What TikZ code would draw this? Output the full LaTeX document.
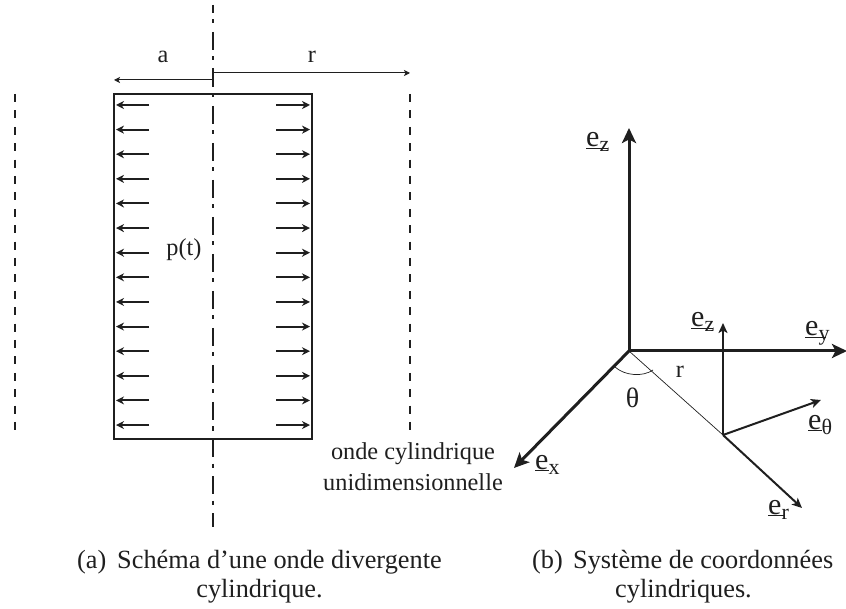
\documentclass[tikz,border=0pt]{standalone}
\usepackage{fontspec}
\setmainfont{Liberation Serif}
\usetikzlibrary{arrows.meta}
% #1 = how far the underline runs under the subscript, #2 = subscript
\newcommand{\vecev}[2]{\underline{e\kern#1}\kern-#1\raisebox{-5pt}{\fontsize{22}{22}\selectfont #2}}
\definecolor{ink}{gray}{0.12}
\tikzset{
  lab/.style={inner sep=0pt,text=ink,font=\fontsize{24.3}{28}\selectfont},
  captext/.style={inner sep=0pt,text=ink,font=\fontsize{26.3}{30}\selectfont},
  vec/.style={inner sep=0pt,text=ink,font=\fontsize{30}{32}\selectfont,anchor=base west},
  wall/.style={draw=ink,line width=1.9pt},
  axisline/.style={draw=ink,line width=1.9pt,dash pattern=on 18pt off 6.5pt on 4pt off 8.5pt,dash phase=10pt},
  wavefront/.style={draw=ink,line width=1.9pt,dash pattern=on 8pt off 8.4pt},
  press/.style={draw=ink,line width=2pt,-{Stealth[length=8pt,width=8pt,inset=2.5pt]}},
  dim/.style={draw=ink,line width=1pt,-{Stealth[length=6pt,width=6pt,inset=1.5pt]}},
  tick/.style={draw=ink,line width=1.6pt},
  main/.style={draw=ink,line width=3pt,-{Stealth[length=15pt,width=14pt,inset=3.5pt]}},
  sub/.style={draw=ink,line width=2pt,-{Stealth[length=10pt,width=9pt,inset=2.5pt]}},
  thin/.style={draw=ink,line width=0.7pt}
}
\begin{document}
\begin{tikzpicture}[x=1pt,y=-1pt]
\useasboundingbox (0,0) rectangle (846,609);
% left figure
\coordinate (axT) at (213,5);
\coordinate (axB) at (213,527);
\coordinate (dimA) at (213,80);
\coordinate (dimAe) at (114,80);
\coordinate (dimR) at (213,73);
\coordinate (dimRe) at (410,73);
\coordinate (tickT) at (213,68);
\coordinate (wl1) at (15,94);
\coordinate (wl2) at (15,432);
\coordinate (wr1) at (410,94);
\coordinate (wr2) at (410,432);
\coordinate (boxTL) at (114,94);
\coordinate (boxBR) at (312,439);
\draw[wall] (boxTL) rectangle (boxBR);
\draw[axisline] (axT) -- (axB);
\draw[wavefront] (wl1) -- (wl2);
\draw[wavefront] (wr1) -- (wr2);
\draw[tick] (tickT) -- (dimA);
\draw[dim] (dimA) -- (dimAe);
\draw[dim] (dimR) -- (dimRe);
\foreach \i in {0,...,13} {
  \coordinate (la\i) at (149,105+24.62*\i);
  \coordinate (lb\i) at (116,105+24.62*\i);
  \coordinate (ra\i) at (276,105+24.62*\i);
  \coordinate (rb\i) at (310,105+24.62*\i);
  \draw[press] (la\i) -- (lb\i);
  \draw[press] (ra\i) -- (rb\i);
}
\node[lab] (la) at (163,57) {a};
\node[lab] (lr) at (312,57) {r};
\node[lab] (lp) at (184,250) {p(t)};
\node[lab] (w1) at (413,454) {onde cylindrique};
\node[lab] (w2) at (413,482) {unidimensionnelle};
\node[captext,anchor=base west] (capa0) at (77,568) {(a)};
\node[captext,anchor=base west] (capa1) at (117,568) {Schéma d’une onde divergente};
\node[captext,anchor=base] (capa2) at (259.5,597) {cylindrique.};
% right figure
\coordinate (O) at (629,351);
\coordinate (Z) at (629,128);
\coordinate (Y) at (847,351);
\coordinate (X) at (514,468);
\coordinate (P) at (723,435);
\coordinate (R) at (802,508);
\coordinate (Pz) at (723,323);
\coordinate (Pt) at (821,400);
\coordinate (th1) at (615,367);
\coordinate (th2) at (653,370);
\draw[main] (O) -- (Z);
\draw[main] (O) -- (Y);
\draw[main] (O) -- (X);
\draw[thin] (O) -- (P);
\draw[sub] (P) -- (R);
\draw[sub] (P) -- (Pz);
\draw[sub] (P) -- (Pt);
\draw[thin] (th1) .. controls (625,376) and (643,377) .. (th2);
\node[vec] (ez) at (586,147) {\vecev{8pt}{z}};
\node[vec] (ez2) at (691,327) {\vecev{8pt}{z}};
\node[vec] (ey) at (805,336) {\vecev{7pt}{y}};
\node[vec] (et) at (808,429) {\vecev{0pt}{θ}};
\node[vec] (ex) at (535,469) {\vecev{0pt}{x}};
\node[vec] (er) at (768,514) {\vecev{3pt}{r}};
\node[lab] (lr2) at (680,372) {r};
\node[lab,font=\fontsize{28}{30}\selectfont] (lt) at (632.5,398) {θ};
\node[captext,anchor=base west] (capb0) at (532,568) {(b)};
\node[captext,anchor=base west] (capb1) at (573,568) {Système de coordonnées};
\node[captext,anchor=base] (capb2) at (683.5,597) {cylindriques.};
\end{tikzpicture}
\end{document}
